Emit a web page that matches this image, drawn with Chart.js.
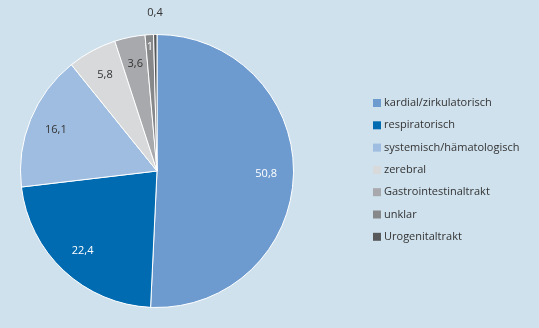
<!DOCTYPE html>
<html lang="de">
<head>
<meta charset="UTF-8">
<title>Todesursachen</title>
<script src="https://cdn.jsdelivr.net/npm/chart.js@4.4.0/dist/chart.umd.min.js"></script>
<style>
  html, body { margin: 0; padding: 0; background: #cfe1ed; }
  #wrap { width: 539px; height: 328px; position: relative; }
</style>
</head>
<body>
<div id="wrap"><canvas id="pie"></canvas></div>
<script>
  // Daten
  const categories = ['kardial/zirkulatorisch', 'respiratorisch', 'systemisch/hämatologisch',
                      'zerebral', 'Gastrointestinaltrakt', 'unklar', 'Urogenitaltrakt'];
  const values = [50.8, 22.4, 16.1, 5.8, 3.6, 1, 0.4];
  const colors = ['#6d9bcf', '#006bb1', '#9ebde0', '#d8d9da', '#a7a9ac', '#87888a', '#58595b'];
  const labelColors = ['#ffffff', '#ffffff', '#333333', '#333333', '#333333', '#ffffff', '#333333'];

  const fmt = v => String(v).replace('.', ',');

  // Beschriftung der Segmente
  const sliceLabels = {
    id: 'sliceLabels',
    afterDatasetsDraw(chart) {
      const ctx = chart.ctx;
      const meta = chart.getDatasetMeta(0);
      ctx.save();
      ctx.font = '11px "Open Sans"';
      ctx.textAlign = 'center';
      ctx.textBaseline = 'middle';
      meta.data.forEach((arc, i) => {
        const mid = (arc.startAngle + arc.endAngle) / 2;
        let r = arc.outerRadius * 0.8;
        if (values[i] < 3) r = arc.outerRadius * 0.91;   // schmale Segmente: weiter außen
        if (values[i] < 1) r = arc.outerRadius + 22;     // zu schmal: außerhalb
        const x = arc.x + Math.cos(mid) * r;
        const y = arc.y + Math.sin(mid) * r;
        ctx.fillStyle = labelColors[i];
        ctx.fillText(fmt(values[i]), x, y);
      });
      ctx.restore();
    }
  };

  // Legende rechts
  const sideLegend = {
    id: 'sideLegend',
    afterDraw(chart) {
      const ctx = chart.ctx;
      ctx.save();
      ctx.font = '11px "Open Sans"';
      ctx.textBaseline = 'middle';
      ctx.textAlign = 'left';
      categories.forEach((c, i) => {
        const y = 103 + i * 22.3;
        ctx.fillStyle = colors[i];
        ctx.fillRect(373, y - 4, 8, 8);
        ctx.fillStyle = '#333333';
        ctx.fillText(c, 384, y);
      });
      ctx.restore();
    }
  };

  new Chart(document.getElementById('pie'), {
    type: 'pie',
    data: {
      labels: categories,
      datasets: [{
        data: values,
        backgroundColor: colors,
        borderColor: '#ffffff',
        borderWidth: 1
      }]
    },
    options: {
      responsive: true,
      maintainAspectRatio: false,
      animation: false,
      layout: { padding: { left: 20, right: 245, top: 34, bottom: 20 } },
      plugins: {
        legend: { display: false },
        tooltip: { enabled: false }
      }
    },
    plugins: [sliceLabels, sideLegend]
  });
</script>
</body>
</html>
